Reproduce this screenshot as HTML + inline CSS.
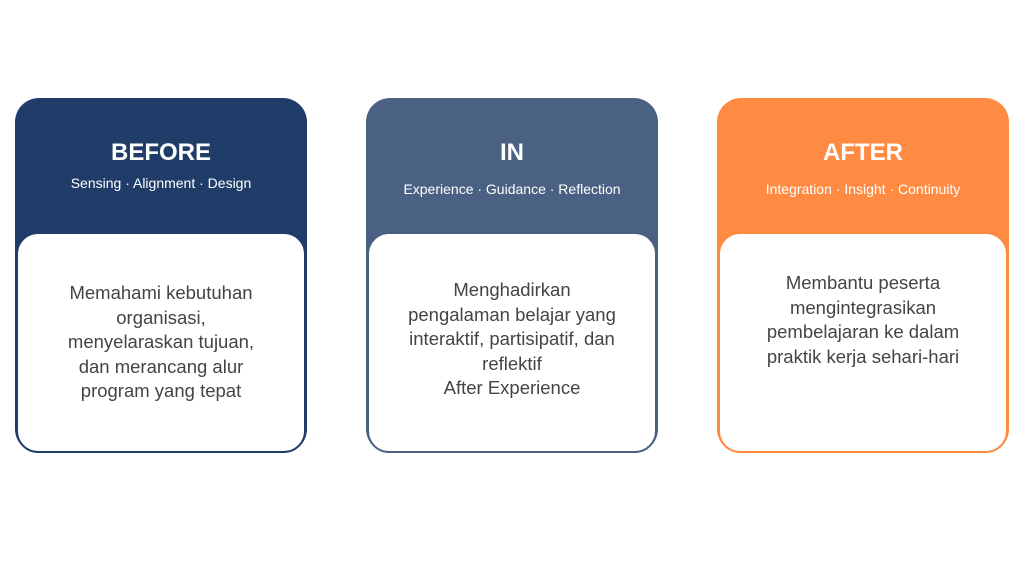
<!DOCTYPE html>
<html><head><style>
body{margin:0;width:1024px;height:576px;background:#fff;font-family:"Liberation Sans",sans-serif;position:relative;overflow:hidden}
.c{position:absolute;top:98px;width:292px;height:355px;border-radius:24px;box-sizing:border-box}
.w{position:absolute;left:1px;right:1px;top:134px;bottom:0;background:#fff;border:2px solid;border-radius:22px;box-sizing:border-box}
.t{position:absolute;left:0;right:0;text-align:center;color:#fff;font-weight:bold;font-size:24px;line-height:28px}
.s{position:absolute;left:0;right:0;text-align:center;color:#fff;font-size:14px;line-height:18px}
.b{position:absolute;left:20px;right:20px;text-align:center;color:#444;font-size:18.5px;line-height:24.6px}
</style></head><body>
<div class="c" style="left:15px;background:#1f3d68">
<div class="t" style="top:41px">BEFORE</div>
<div class="s" style="top:76px">Sensing · Alignment · Design</div>
<div class="w" style="border-color:#1f3d68"></div>
<div class="b" style="top:183px">Memahami kebutuhan<br>organisasi,<br>menyelaraskan tujuan,<br>dan merancang alur<br>program yang tepat</div>
</div>
<div class="c" style="left:366px;background:#4a6183">
<div class="t" style="top:41px">IN</div>
<div class="s" style="top:82px">Experience · Guidance · Reflection</div>
<div class="w" style="border-color:#4a6183"></div>
<div class="b" style="top:180px">Menghadirkan<br>pengalaman belajar yang<br>interaktif, partisipatif, dan<br>reflektif<br>After Experience</div>
</div>
<div class="c" style="left:717px;background:#ff8a42">
<div class="t" style="top:41px">AFTER</div>
<div class="s" style="top:82px">Integration · Insight · Continuity</div>
<div class="w" style="border-color:#ff8a42"></div>
<div class="b" style="top:173px">Membantu peserta<br>mengintegrasikan<br>pembelajaran ke dalam<br>praktik kerja sehari-hari</div>
</div>
</body></html>
